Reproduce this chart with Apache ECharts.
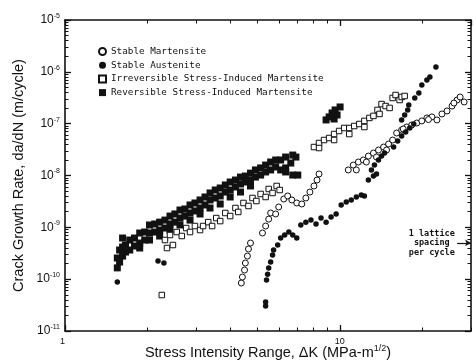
<!DOCTYPE html>
<html><head><meta charset="utf-8">
<script src="https://cdn.jsdelivr.net/npm/echarts@6/dist/echarts.min.js"></script>
<style>html,body{margin:0;padding:0;background:#fff}#c{width:476px;height:360px}</style>
</head><body><div id="c"></div>
<script>
const seriesNames = ['Stable Martensite', 'Stable Austenite', 'Irreversible Stress-Induced Martensite', 'Reversible Stress-Induced Martensite'];
const xTitle = 'Stress Intensity Range, ΔK (MPa-m{s|1/2})';
const yTitle = 'Crack Growth Rate, da/dN (m/cycle)';
const annotationText = '1 lattice\nspacing\nper cycle';
const annotationPoint = [21.6, 5.0e-10];
const arrowFrom = [26.7, 5.0e-10];
const arrowTo = [30, 5.0e-10];
const xMin = 1, xMax = 30, yMin = 1e-11, yMax = 1e-5;
const xMinorTicks = [2, 3, 4, 5, 6, 7, 8, 9, 20, 30];
const yMinorMantissas = [2, 3, 4, 5, 6, 7, 8, 9];
const yDecades = [-11, -10, -9, -8, -7, -6];

const stableMartensite = [
 [4.38,8.43e-11],[4.42,1.10e-10],[4.50,1.50e-10],[4.53,2.05e-10],[4.61,2.79e-10],[4.65,3.82e-10],[4.73,4.98e-10],
 [5.23,7.77e-10],[5.37,1.06e-9],[5.51,1.44e-9],[5.60,1.89e-9],[5.84,1.81e-9],[5.99,2.47e-9],[6.25,3.52e-9],[6.46,4.03e-9],
 [6.69,3.37e-9],[6.97,2.95e-9],[7.27,2.82e-9],[7.52,3.68e-9],[7.78,4.80e-9],[8.05,6.28e-9],[8.26,8.18e-9],[8.40,1.07e-8],
 [10.73,1.28e-8],[11.19,1.59e-8],[11.68,1.82e-8],[12.17,1.99e-8],[12.70,2.37e-8],[13.25,2.71e-8],[13.82,3.10e-8],
 [14.42,3.54e-8],[15.04,4.05e-8],[15.56,4.84e-8],[16.09,6.60e-8],[16.78,7.55e-8],[17.51,8.62e-8],[18.26,9.42e-8],
 [19.05,1.03e-7],[19.87,1.13e-7],[20.73,1.29e-7],[21.62,1.35e-7],[22.55,1.18e-7],[23.52,1.54e-7],[24.54,1.76e-7],
 [25.59,2.19e-7],[26.70,2.86e-7],[27.39,3.27e-7],[28.33,2.62e-7],
 [11.48,1.28e-8],[12.49,1.82e-8],[13.59,2.27e-8],[14.79,3.10e-8],[17.0,7.9e-8],[21.0,1.20e-7],[26.0,2.5e-7]
];
const stableAustenite = [
 [1.55,8.82e-11],[2.18,2.24e-10],[2.29,2.05e-10],
 [5.37,3.03e-11],[5.37,3.62e-11],[5.41,9.64e-11],[5.46,1.25e-10],[5.51,1.65e-10],[5.60,2.14e-10],[5.69,2.92e-10],
 [5.74,3.65e-10],[5.94,4.56e-10],[6.09,6.22e-10],[6.30,7.11e-10],[6.52,8.12e-10],[6.74,7.11e-10],[6.97,6.22e-10],
 [7.21,1.11e-9],[7.52,1.26e-9],[7.85,1.38e-9],[8.19,1.16e-9],[8.54,1.51e-9],[8.91,1.26e-9],[9.29,1.58e-9],[9.69,1.81e-9],
 [10.11,2.70e-9],[10.55,3.08e-9],[11.00,3.37e-9],[11.48,3.85e-9],[11.97,4.21e-9],[12.28,4.03e-9],[12.70,8.18e-9],
 [13.25,9.76e-9],[13.59,1.07e-8],[13.03,1.28e-8],[13.36,1.59e-8],[13.82,1.99e-8],[14.18,2.37e-8],[14.54,2.71e-8],
 [15.69,3.54e-8],[16.23,4.63e-8],[16.78,5.78e-8],[17.36,6.91e-8],[17.96,8.25e-8],[18.57,9.85e-8],
 [16.78,1.18e-7],[17.21,1.47e-7],[17.65,1.84e-7],[17.81,2.29e-7],[18.73,3.13e-7],[19.38,3.90e-7],[19.87,5.57e-7],
 [20.73,6.95e-7],[21.26,7.95e-7],[22.36,1.24e-6]
];
const irreversibleSIM = [
 [2.25,4.94e-11],
 [2.31,5.69e-10],[2.35,3.99e-10],[2.41,7.11e-10],[2.47,4.56e-10],[2.55,8.12e-10],[2.66,6.80e-10],[2.76,9.69e-10],
 [2.85,8.12e-10],[2.97,1.06e-9],[3.10,8.87e-10],[3.18,1.06e-9],[3.32,1.26e-9],[3.43,1.06e-9],[3.55,1.51e-9],
 [3.67,1.32e-9],[3.83,1.89e-9],[3.99,1.65e-9],[4.17,2.36e-9],[4.27,1.98e-9],[4.46,2.95e-9],[4.65,2.58e-9],
 [4.81,3.68e-9],[4.97,3.22e-9],[5.15,4.40e-9],[5.37,3.85e-9],[5.51,5.49e-9],[5.69,4.60e-9],[5.89,6.28e-9],[6.04,5.25e-9],
 [8.05,3.54e-8],[8.40,4.23e-8],[8.76,4.84e-8],[9.14,5.29e-8],[9.53,6.31e-8],[9.94,7.22e-8],[10.37,8.25e-8],
 [10.82,8.25e-8],[11.28,9.01e-8],[11.77,9.85e-8],[12.28,1.13e-7],[12.81,1.29e-7],[13.25,1.41e-7],[13.71,1.84e-7],
 [14.18,2.39e-7],[14.67,2.19e-7],[15.17,2.01e-7],[15.56,3.13e-7],[15.95,3.57e-7],[16.50,2.86e-7],[16.78,3.27e-7],
 [17.21,3.42e-7],
 [8.40,3.39e-8],[9.53,4.84e-8],[10.82,6.31e-8],[12.28,8.62e-8],[13.94,1.54e-7]
];
const reversibleSIM = [
 [1.55,1.65e-10],[1.55,2.56e-10],[1.58,3.65e-10],[1.58,2.14e-10],[1.62,6.22e-10],[1.62,4.17e-10],[1.62,2.79e-10],
 [1.66,4.56e-10],[1.66,3.34e-10],[1.72,5.69e-10],[1.72,3.65e-10],[1.79,6.22e-10],[1.79,4.36e-10],[1.87,7.77e-10],
 [1.87,4.98e-10],[1.87,3.99e-10],[1.95,8.12e-10],[1.95,5.69e-10],[2.03,1.11e-9],[2.03,7.77e-10],[2.03,5.69e-10],
 [2.12,1.16e-9],[2.12,8.12e-10],[2.21,1.26e-9],[2.21,8.87e-10],[2.21,6.80e-10],[2.31,1.38e-9],[2.31,9.69e-10],
 [2.41,1.65e-9],[2.41,1.16e-9],[2.41,8.87e-10],[2.51,1.81e-9],[2.51,1.26e-9],[2.62,2.16e-9],[2.62,1.51e-9],
 [2.62,1.11e-9],[2.73,2.26e-9],[2.73,1.65e-9],[2.85,2.70e-9],[2.85,1.89e-9],[2.85,1.38e-9],[2.97,2.95e-9],
 [2.97,2.07e-9],[3.10,3.37e-9],[3.10,2.36e-9],[3.10,1.81e-9],[3.23,3.85e-9],[3.23,2.70e-9],[3.37,4.60e-9],
 [3.37,3.37e-9],[3.37,2.36e-9],[3.52,5.25e-9],[3.52,3.68e-9],[3.67,5.74e-9],[3.67,4.03e-9],[3.67,2.82e-9],
 [3.83,6.56e-9],[3.83,4.80e-9],[3.99,7.49e-9],[3.99,5.25e-9],[3.99,3.85e-9],[4.17,8.18e-9],[4.17,6.00e-9],
 [4.35,9.33e-9],[4.35,6.86e-9],[4.35,4.80e-9],[4.53,9.76e-9],[4.53,7.49e-9],[4.73,1.11e-8],[4.73,8.18e-9],
 [4.73,6.28e-9],[4.93,1.28e-8],[4.93,9.33e-9],[5.15,1.40e-8],[5.15,1.02e-8],[5.37,1.59e-8],[5.37,1.17e-8],
 [5.60,1.82e-8],[5.60,1.28e-8],[5.84,1.99e-8],[5.84,1.46e-8],[6.09,1.99e-8],[6.09,1.28e-8],[6.35,2.27e-8],
 [6.35,1.40e-8],[6.35,1.17e-8],[6.63,1.74e-8],[6.74,2.48e-8],[6.74,1.02e-8],[6.92,2.27e-8],[7.03,1.02e-8],
 [8.91,1.18e-7],[9.14,1.35e-7],[9.37,1.61e-7],[9.61,1.84e-7],[9.77,1.47e-7],[10.02,2.10e-7],[9.53,1.23e-7]
];

const yMinorTicks = [];
yDecades.forEach(e => yMinorMantissas.forEach(m => yMinorTicks.push(Number((m * Math.pow(10, e)).toPrecision(3)))));

const INK = '#111';
const axisFont = 'Liberation Sans, Arial, sans-serif';
const monoFont = 'DejaVu Sans Mono, monospace';

function baseAxis(extra) {
  return Object.assign({
    type: 'log', logBase: 10,
    axisLine: { show: true, onZero: false, lineStyle: { color: INK, width: 1.6 } },
    axisTick: { show: true, inside: true, length: 6, lineStyle: { color: INK, width: 1.3 } },
    minorTick: { show: false },
    splitLine: { show: false }, minorSplitLine: { show: false }
  }, extra);
}
function minorAxis(pos, min, max, values) {
  return {
    type: 'log', logBase: 10, min: min, max: max, position: pos, offset: 0, show: true,
    axisLine: { show: false }, axisLabel: { show: false }, splitLine: { show: false },
    axisTick: { show: true, inside: true, length: 3.5, customValues: values, lineStyle: { color: INK, width: 1 } }
  };
}

const chart = echarts.init(document.getElementById('c'), null, { renderer: 'canvas' });
chart.setOption({
  backgroundColor: '#fff',
  animation: false,
  grid: { left: 65, right: 5, top: 20, bottom: 29, containLabel: false, outerBoundsMode: 'none' },
  legend: {
    orient: 'vertical', left: 93, top: 42,
    itemWidth: 7, itemHeight: 7, itemGap: 4.7,
    textStyle: { fontFamily: monoFont, fontSize: 9.3, color: INK, lineHeight: 7, padding: [0, 0, 0, 0] },
    data: seriesNames
  },
  xAxis: [
    baseAxis({
      min: xMin, max: xMax, position: 'bottom',
      name: xTitle, nameLocation: 'middle', nameGap: 13, nameMoveOverlap: false,
      nameTextStyle: { fontFamily: axisFont, fontSize: 14.5, color: INK, lineHeight: 17,
        rich: { s: { fontFamily: axisFont, fontSize: 9, color: INK, verticalAlign: 'top', lineHeight: 10 } } },
      axisLabel: { show: true, margin: 6, fontFamily: axisFont, fontSize: 9, color: INK, alignMinLabel: 'right',
        showMaxLabel: false, formatter: v => (v === 1 || v === 10) ? String(v) : '' }
    }),
    baseAxis({ min: xMin, max: xMax, position: 'top', axisLabel: { show: false } }),
    minorAxis('bottom', xMin, xMax, xMinorTicks),
    minorAxis('top', xMin, xMax, xMinorTicks)
  ],
  yAxis: [
    baseAxis({
      min: yMin, max: yMax, position: 'left',
      name: yTitle, nameLocation: 'middle', nameGap: 39, nameMoveOverlap: false,
      nameTextStyle: { fontFamily: axisFont, fontSize: 14.5, color: INK },
      axisLabel: {
        show: true, margin: 5, color: INK,
        formatter: v => '{b|10}{s|' + Math.round(Math.log10(v)) + '}',
        rich: {
          b: { fontFamily: axisFont, fontSize: 12, color: INK, lineHeight: 15 },
          s: { fontFamily: axisFont, fontSize: 7, color: INK, verticalAlign: 'top', lineHeight: 8 }
        }
      }
    }),
    baseAxis({ min: yMin, max: yMax, position: 'right', axisLabel: { show: false } }),
    minorAxis('left', yMin, yMax, yMinorTicks),
    minorAxis('right', yMin, yMax, yMinorTicks)
  ],
  series: [
    { name: seriesNames[3], type: 'scatter', data: reversibleSIM, symbol: 'rect', symbolSize: 7,
      itemStyle: { color: INK, opacity: 1 }, z: 2 },
    { name: seriesNames[2], type: 'scatter', data: irreversibleSIM, symbol: 'rect', symbolSize: 5.5,
      itemStyle: { color: '#fff', borderColor: INK, borderWidth: 1, opacity: 1 }, z: 3 },
    { name: seriesNames[0], type: 'scatter', data: stableMartensite, symbol: 'circle', symbolSize: 6,
      itemStyle: { color: '#fff', borderColor: INK, borderWidth: 1, opacity: 1 }, z: 3 },
    { name: seriesNames[1], type: 'scatter', data: stableAustenite, symbol: 'circle', symbolSize: 5.5,
      itemStyle: { color: INK, opacity: 1 }, z: 4,
      markPoint: {
        symbol: 'circle', symbolSize: 0, silent: true,
        label: { show: true, position: 'inside', formatter: annotationText, fontFamily: monoFont,
          fontSize: 8.5, fontWeight: 'bold', lineHeight: 9.5, color: INK, align: 'center' },
        data: [{ coord: annotationPoint }]
      },
      markLine: {
        silent: true, symbol: ['none', 'arrow'], symbolSize: [5, 6],
        lineStyle: { color: INK, width: 1.2, type: 'solid' }, label: { show: false },
        data: [[{ coord: arrowFrom }, { coord: arrowTo }]]
      }
    }
  ]
});
</script>
</body></html>
